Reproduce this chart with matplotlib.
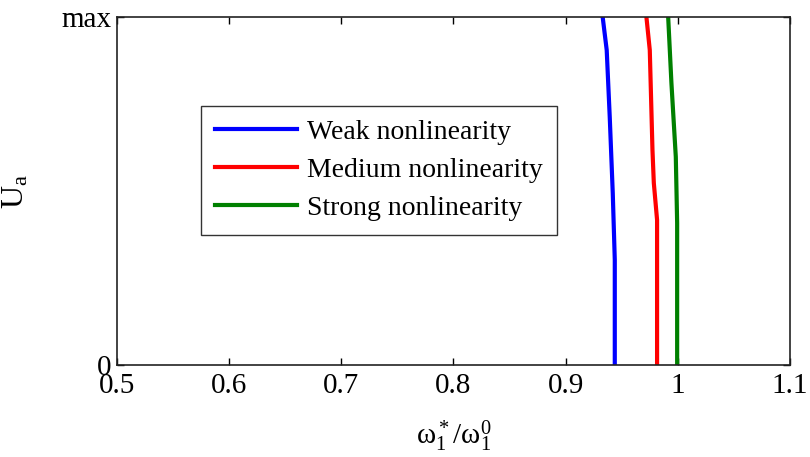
import matplotlib
matplotlib.use("Agg")
import matplotlib.pyplot as plt

plt.rcParams["font.family"] = ["Liberation Serif", "DejaVu Serif"]
plt.rcParams["mathtext.fontset"] = "custom"
plt.rcParams["mathtext.rm"] = "Liberation Serif"
plt.rcParams["mathtext.it"] = "Liberation Serif"

# Ua (fraction of max) and frequency ratio for each nonlinearity level
weak_ua = [0.0, 0.302, 0.494, 0.713, 0.905, 1.0]
weak_w = [0.9438, 0.9438, 0.9420, 0.9393, 0.9366, 0.9330]

medium_ua = [0.0, 0.417, 0.523, 0.618, 0.905, 1.0]
medium_w = [0.9815, 0.9815, 0.9786, 0.9774, 0.9750, 0.9720]

strong_ua = [0.0, 0.408, 0.598, 0.81, 1.0]
strong_w = [0.9994, 0.9994, 0.9982, 0.9943, 0.9914]

labels = ["Weak nonlinearity", "Medium nonlinearity", "Strong nonlinearity"]
x_ticks = [0.5, 0.6, 0.7, 0.8, 0.9, 1.0, 1.1]
x_tick_labels = ["0.5", "0.6", "0.7", "0.8", "0.9", "1", "1.1"]

fig = plt.figure(figsize=(8.1, 4.57), dpi=100)
ax = fig.add_axes([0.1444, 0.2013, 0.8309, 0.7615])

ax.plot(weak_w, weak_ua, color="#0000ff", linewidth=3, label=labels[0])
ax.plot(medium_w, medium_ua, color="#ff0000", linewidth=3, label=labels[1])
ax.plot(strong_w, strong_ua, color="#008000", linewidth=3, label=labels[2])

ax.set_xlim(0.5, 1.1)
ax.set_ylim(0, 1)
ax.set_xticks(x_ticks)
ax.set_xticklabels(x_tick_labels)
ax.set_yticks([0, 1])
ax.set_yticklabels(["0", "max"])

ax.tick_params(direction="in", length=5, width=1, top=True, right=True,
               labelsize=21, pad=4)
ax.tick_params(axis="x", pad=6)
for sp in ax.spines.values():
    sp.set_linewidth(1.2)
    sp.set_color("#222222")

ax.set_xlabel(r"$\mathrm{\omega_1^*/\omega_1^0}$", fontsize=21, labelpad=14)
ax.set_ylabel(r"$\mathrm{U_a}$", fontsize=23, labelpad=22)

leg = ax.legend(loc="upper left", bbox_to_anchor=(0.125, 0.745), fontsize=20,
                frameon=True, fancybox=False, edgecolor="black",
                handlelength=2.95, handletextpad=0.36, borderpad=0.5,
                labelspacing=0.45, borderaxespad=0)
leg.get_frame().set_linewidth(1.0)

fig.savefig("out.png", dpi=100)
